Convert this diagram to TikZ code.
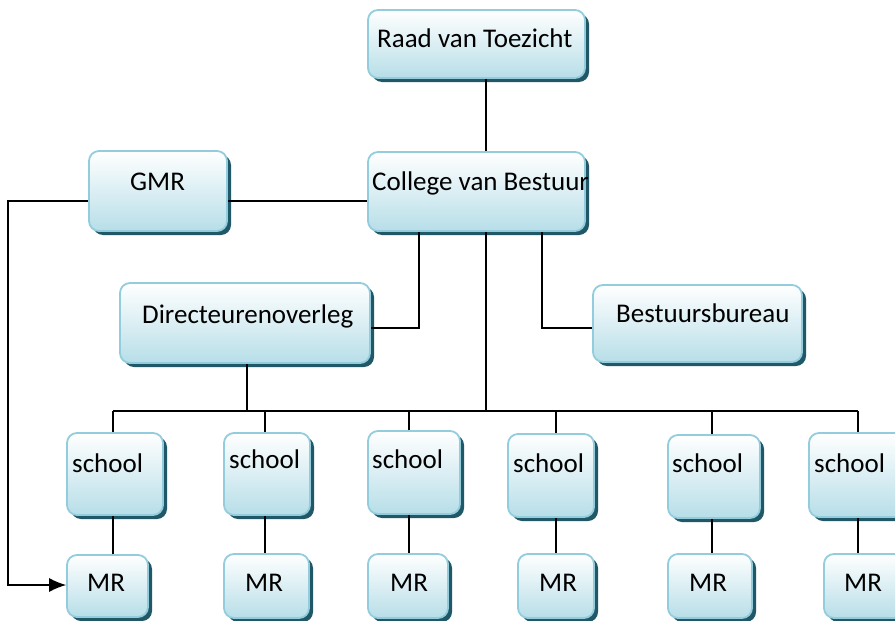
\documentclass[tikz,border=0pt]{standalone}
\usepackage{fontspec}
\setmainfont{Carlito}
\usetikzlibrary{fit}
\usetikzlibrary{shadows}
\usetikzlibrary{arrows.meta}
\definecolor{boxedge}{HTML}{93CDDD}
\definecolor{boxfill}{HTML}{B7DEE8}
\definecolor{boxshade}{HTML}{205867}
\begin{document}
\begin{tikzpicture}[
     x=1pt, y=-1pt,
     org/.style={draw=boxedge, line width=1.8pt, rounded corners=10pt,
       top color=white, bottom color=boxfill, inner sep=0pt,
       drop shadow={shadow xshift=4pt, shadow yshift=-4pt, fill=boxshade, opacity=1}},
     lbl/.style={anchor=base west, inner sep=0pt, font=\fontsize{27}{30}\selectfont},
     wire/.style={line width=1.2pt}
   ]
   \useasboundingbox (0,0) rectangle (895,621);
   % Boxes.
   \foreach \n/\l/\t/\r/\b in {raad/368/10/585/78, cvb/368/152/585/231,
       gmr/89/151/227/231, dir/120/283/370/363, bb/593/285/802/362,
       s1/67/433/163/515, s2/224/433/310/515, s3/368/431/460/514,
       s4/508/434/594/517, s5/668/435/760/518, s6/809/433/905/517,
       mr1/67/555/148/617, mr2/224/554/309/618, mr3/368/554/448/618,
       mr4/518/554/594/618, mr5/668/554/752/618, mr6/824/554/905/618}
     \node[org, fit={(\l,\t) (\r,\b)}] (\n) {};
   % Labels.
   \foreach \n/\x/\y/\t in {raad/377/47/Raad van Toezicht, cvb/372/190/College van Bestuur,
       gmr/130/190/GMR, dir/142/323/Directeurenoverleg, bb/616/322/Bestuursbureau,
       s1/72/472/school, s2/229/468/school, s3/372/468/school,
       s4/513/472/school, s5/672/472/school, s6/814/472/school,
       mr1/87/591/MR, mr2/245/591/MR, mr3/390/591/MR,
       mr4/539/591/MR, mr5/689/591/MR, mr6/844/591/MR}
     \node[lbl] (t-\n) at (\x,\y) {\t};
   % Connectors.
   \coordinate (bus) at (486,411);
   \coordinate (row) at (0,201);
   \coordinate (dirlink) at (419,328);
   \coordinate (bblink) at (542,328);
   \coordinate (lft) at (8,585);
   \draw[wire] (raad.south -| bus) -- (cvb.north -| bus);
   \draw[wire] (cvb.south -| bus) -- (bus);
   \draw[wire] (gmr.east |- row) -- (cvb.west |- row);
   \draw[wire] (cvb.south -| dirlink) |- (dir.east |- dirlink);
   \draw[wire] (cvb.south -| bblink) |- (bb.west |- bblink);
   \draw[wire] (dir.south -| 247,0) -- (bus -| 247,0);
   \foreach \i/\x in {1/113,2/265,3/409,4/556,5/712,6/858} {
     \coordinate (c\i) at (\x,411);
     \draw[wire] (c\i) -- (c\i |- s\i.north);
     \draw[wire] (c\i |- s\i.south) -- (c\i |- mr\i.north);
   }
   \draw[wire] (c1) -- (c6);
   \draw[wire,-{Latex[length=17pt,width=14pt]}] (gmr.west |- row) -| (lft) -- (mr1.west |- lft);
\end{tikzpicture}
\end{document}
